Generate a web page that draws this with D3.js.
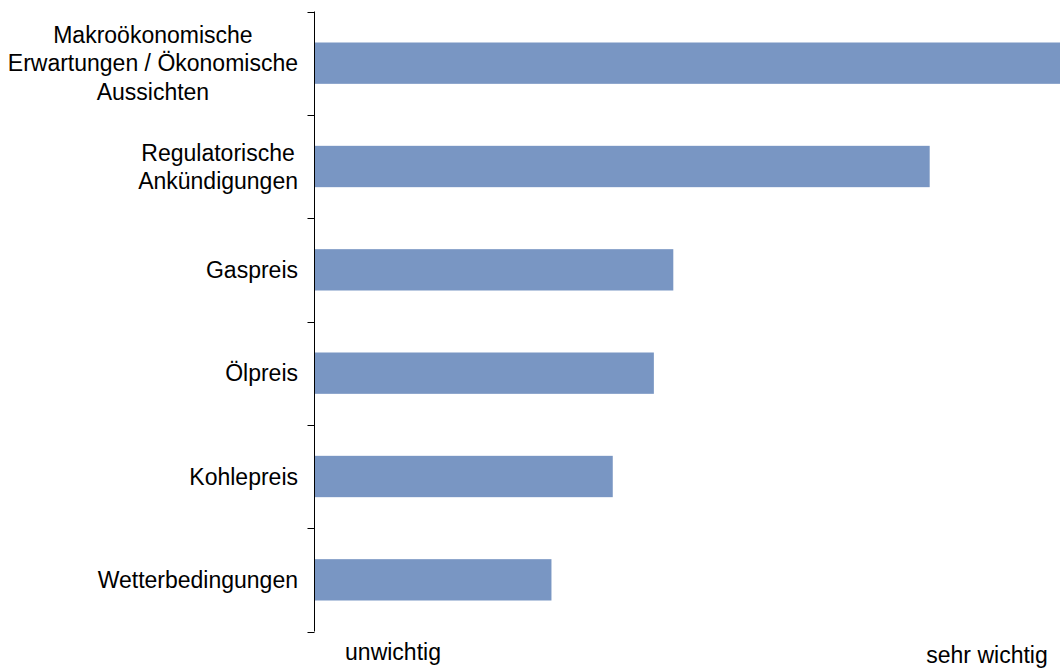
<!DOCTYPE html>
<html>
<head>
<meta charset="utf-8">
<script src="https://cdn.jsdelivr.net/npm/d3@7"></script>
<style>
html,body{margin:0;padding:0;background:#fff;}
svg{display:block;}
text{font-family:"Liberation Sans",Arial,sans-serif;fill:#000;}
</style>
</head>
<body>
<svg id="chart" width="1060" height="668"></svg>
<script>
const categories = [
  ["Makroökonomische", "Erwartungen / Ökonomische", "Aussichten"],
  ["Regulatorische", "Ankündigungen"],
  ["Gaspreis"],
  ["Ölpreis"],
  ["Kohlepreis"],
  ["Wetterbedingungen"]
];
const values = [100, 82.3, 48.0, 45.4, 39.9, 31.7];
const scaleLabels = ["unwichtig", "sehr wichtig"];

const svg = d3.select("#chart");
const x0 = 314.5, yTop = 11.5, yBot = 631.5;
const fontSize = 23;

const x = d3.scaleLinear().domain([0, 100]).range([x0, 1062]);
const y = d3.scaleBand().domain(d3.range(categories.length)).range([yTop, yBot])
  .paddingInner(0.6).paddingOuter(0.3);

// bars
svg.append("g").selectAll("rect").data(values).join("rect")
  .attr("x", x0)
  .attr("y", (d, i) => y(i))
  .attr("width", d => x(d) - x0)
  .attr("height", y.bandwidth())
  .attr("fill", "#7996C3");

// axis line and ticks at band boundaries
const step = y.step();
const bounds = d3.range(categories.length + 1).map(i => yTop + i * step);
const ax = svg.append("g");
ax.append("line").attr("x1", x0).attr("x2", x0).attr("y1", yTop).attr("y2", yBot)
  .attr("stroke", "#000").attr("stroke-width", 1);
ax.selectAll("line.tick").data(bounds).join("line").attr("class", "tick")
  .attr("x1", x0 - 7).attr("x2", x0)
  .attr("y1", d => Math.round(d) + 0.5).attr("y2", d => Math.round(d) + 0.5)
  .attr("stroke", "#000").attr("stroke-width", 1);

// category labels: multi-line, centered lines, block right-aligned
const rightEdge = 298;
const lineH = 28.5;
categories.forEach((lines, i) => {
  const cy = y(i) + y.bandwidth() / 2;
  const t = svg.append("text").attr("font-size", fontSize).attr("text-anchor", "middle");
  const n = lines.length;
  const spans = lines.map((ln, j) => t.append("tspan").text(ln)
    .attr("y", cy + (j - (n - 1) / 2) * lineH + fontSize * 0.36));
  const maxW = d3.max(spans, s => s.node().getComputedTextLength());
  spans.forEach(s => s.attr("x", rightEdge - maxW / 2));
});

// scale end labels
svg.append("text").attr("font-size", fontSize).attr("text-anchor", "middle")
  .attr("x", 393).attr("y", 660).text(scaleLabels[0]);
svg.append("text").attr("font-size", fontSize).attr("text-anchor", "middle")
  .attr("x", 987).attr("y", 663).text(scaleLabels[1]);
</script>
</body>
</html>
